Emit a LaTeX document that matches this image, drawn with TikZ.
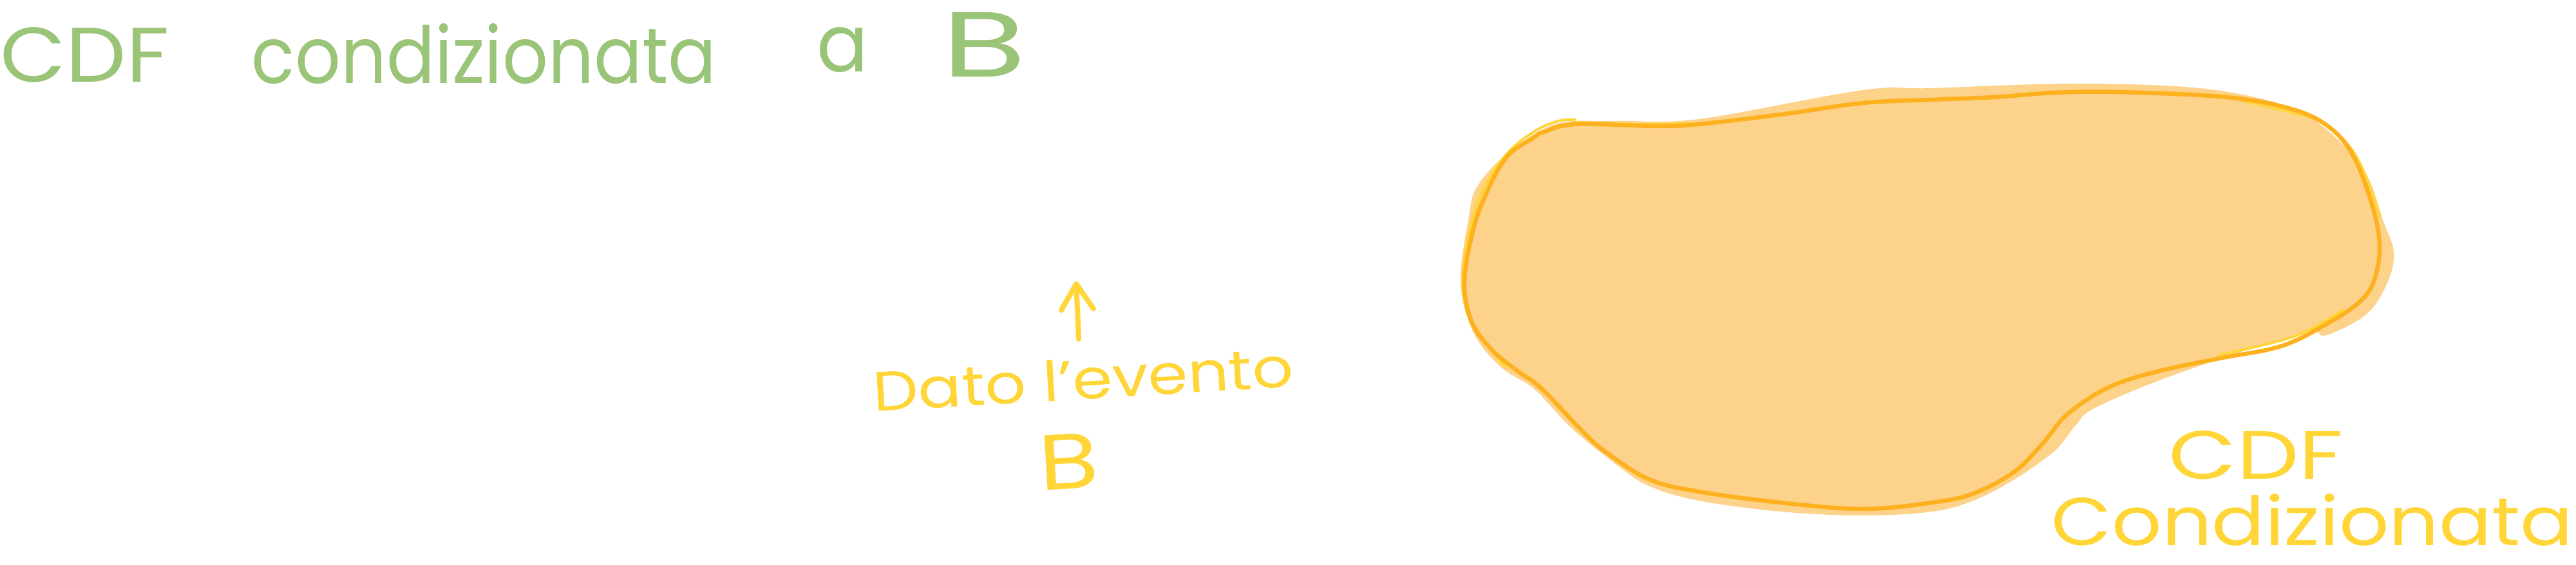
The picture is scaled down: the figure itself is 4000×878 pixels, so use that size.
\documentclass[tikz,border=0pt]{standalone}
\usepackage{fontspec}
\setmainfont{Poppins}
\usepackage{graphicx}
\usetikzlibrary{arrows.meta}
\definecolor{tgreen}{RGB}{154,196,120}
\definecolor{tyellow}{RGB}{255,213,55}
\definecolor{borange}{RGB}{253,177,30}
\definecolor{bfill}{RGB}{253,210,138}
\newcommand{\fitt}[3]{\resizebox{#1mm}{#2mm}{#3}}
\begin{document}
\begin{tikzpicture}[x=0.1mm,y=-0.1mm,
  gtext/.style={text=tgreen,inner sep=0,anchor=base west},
  ytext/.style={text=tyellow,inner sep=0,anchor=base west},
  blobfill/.style={fill=bfill,draw=none},
  bloboutline/.style={draw=borange,line width=0.65mm,line cap=round,line join=round},
  blobhint/.style={draw=tyellow,line width=0.4mm,line cap=round,line join=round},
  arrowline/.style={draw=tyellow,line width=0.8mm,line cap=round,line join=round,
     -{Straight Barb[length=4mm,width=5mm,round]}}]
\useasboundingbox (0,0) rectangle (4000,878);

% title
\node[gtext] (t1) at (0,128) {\fitt{26.2}{8.5}{CDF}};
\node[gtext] (t2) at (390,130) {\fitt{72.2}{9.3}{condizionata}};
\node[gtext] (t3) at (1268,112) {\fitt{8}{6.9}{a}};
\node[gtext] (t4) at (1462,120) {\fitt{13.1}{10}{B}};

% Dato l'evento B
\node[ytext,rotate=3.4] (dato) at (1357,640) {\fitt{65.3}{6.4}{Dato l'evento}};
\node[ytext,rotate=3.4] (evB) at (1615,763) {\fitt{9.3}{8.5}{B}};
\coordinate (arrtail) at (1675,527);
\coordinate (arrtip) at (1671,437);
\draw[arrowline] (arrtail) -- (arrtip);

% blob
\fill[blobfill] plot[smooth cycle,tension=0.6] coordinates {
 (2281,336) (2268,437) (2287,515) (2330,570) (2383,605) (2440,665) (2510,722)
 (2560,755) (2638,778) (2765,795) (2893,801) (3000,795) (3064,778) (3128,745)
 (3191,700) (3223,661) (3255,633) (3383,580) (3574,518) (3612,521) (3676,487)
 (3708,437) (3717,392) (3702,347) (3670,263) (3606,196) (3542,162) (3415,137)
 (3223,130) (3000,137) (2893,140) (2638,185) (2510,188) (2415,193) (2338,241)
 (2293,291)};

\draw[blobhint] plot[smooth,tension=0.6] coordinates {
 (2445,186) (2420,188) (2383,204) (2338,241) (2300,302) (2281,364) (2271,437)
 (2281,493) (2306,532) (2338,571)};
\draw[blobhint] plot[smooth,tension=0.6] coordinates {(2446,190) (2540,193) (2625,192)};
\draw[blobhint] plot[smooth,tension=0.6] coordinates {
 (3446,148) (3555,174) (3606,190) (3650,230) (3676,280) (3695,336)};
\draw[blobhint] plot[smooth,tension=0.6] coordinates {
 (3638,482) (3587,512) (3542,529) (3446,552)};

\draw[bloboutline] plot[smooth cycle,tension=0.6] coordinates {
 (2395,206) (2446,193) (2574,196) (2638,193) (2765,178) (2893,160) (3000,155)
 (3096,151) (3191,144) (3287,143) (3446,150) (3542,165) (3606,190) (3650,235)
 (3682,314) (3695,381) (3686,437) (3663,470) (3612,504) (3542,538) (3446,557)
 (3351,577) (3274,602) (3210,644) (3172,689) (3128,733) (3064,767) (3000,781)
 (2893,791) (2765,781) (2638,764) (2561,745) (2497,705) (2459,672) (2395,605)
 (2357,577) (2319,546) (2287,504) (2274,448) (2281,386) (2300,319) (2338,246)
 (2383,213)};

% bottom right
\node[ytext] (cdf2) at (3367,745) {\fitt{27.1}{7.5}{CDF}};
\node[ytext] (cond2) at (3185,848) {\fitt{81}{8.0}{Condizionata}};
\end{tikzpicture}
\end{document}
